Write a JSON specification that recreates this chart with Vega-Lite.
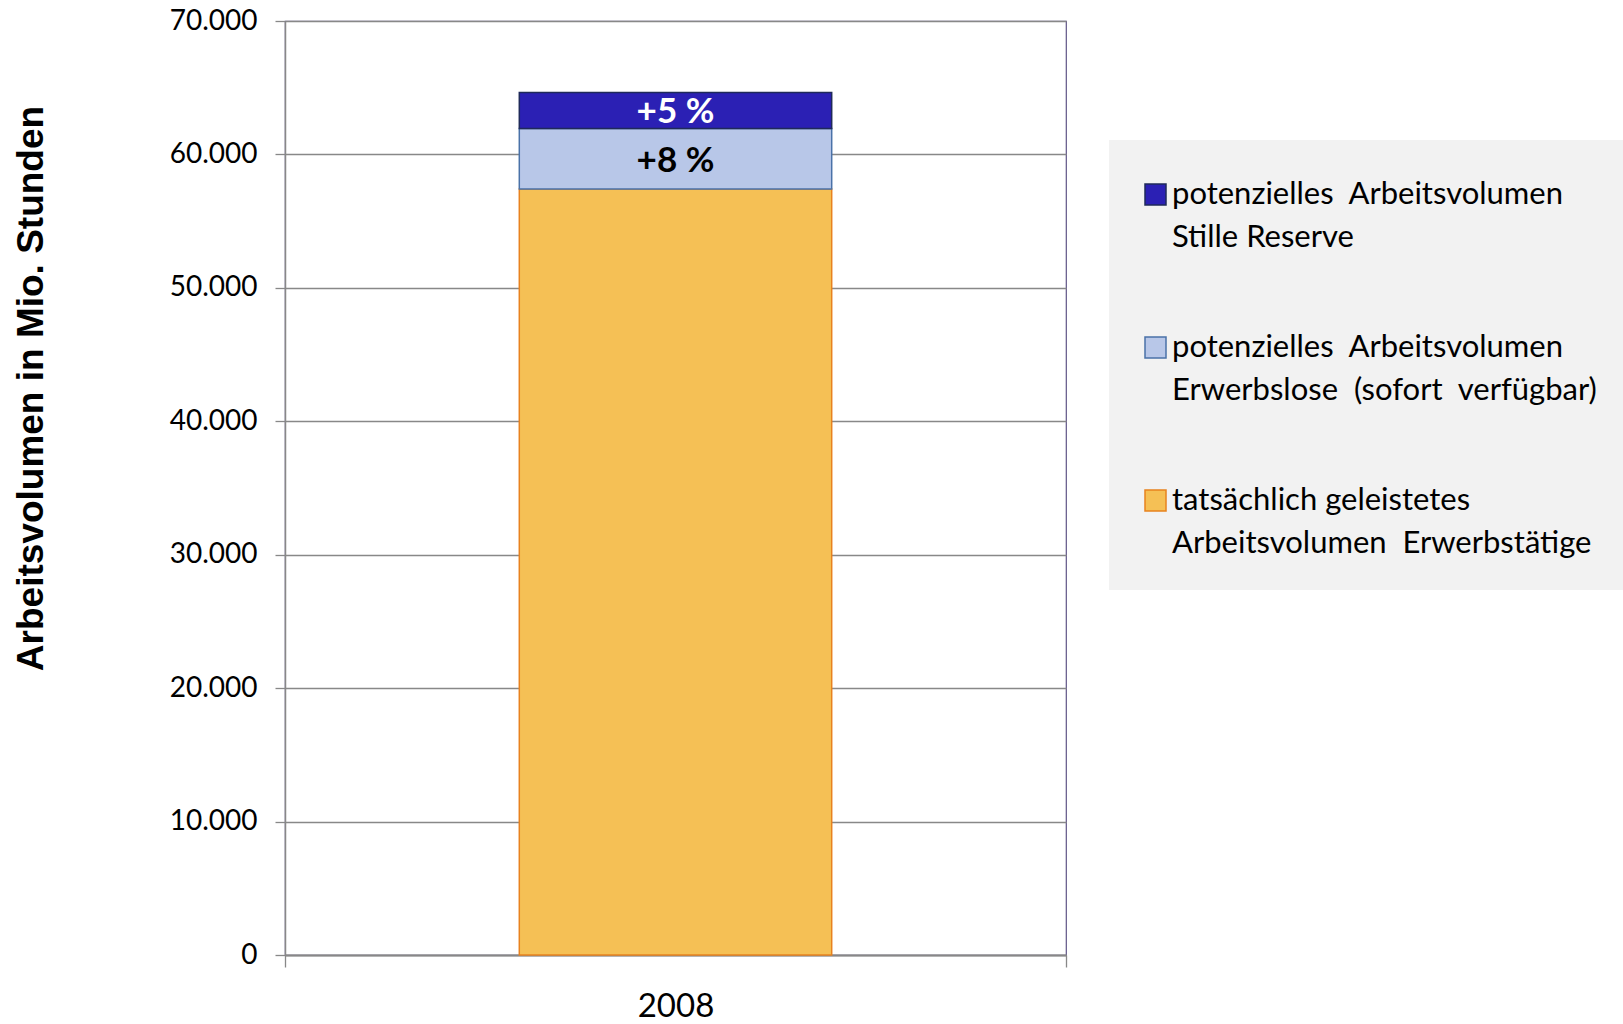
{
  "$schema": "https://vega.github.io/schema/vega-lite/v6.json",
  "width": 781,
  "height": 934,
  "autosize": {"type": "none"},
  "padding": {"left": 285, "top": 21, "right": 557, "bottom": 69},
  "background": "white",
  "config": {"view": {"stroke": "#5f5485", "strokeWidth": 1.2}, "font": "Lato"},
  "data": {
    "values": [
      {"jahr": "2008", "kategorie": "tatsächlich geleistetes|Arbeitsvolumen \u00a0Erwerbstätige", "wert": 57400, "ord": 1, "etikett": ""},
      {"jahr": "2008", "kategorie": "potenzielles \u00a0Arbeitsvolumen|Erwerbslose \u00a0(sofort \u00a0verfügbar)", "wert": 4550, "ord": 2, "etikett": "+8 %"},
      {"jahr": "2008", "kategorie": "potenzielles \u00a0Arbeitsvolumen|Stille Reserve", "wert": 2700, "ord": 3, "etikett": "+5 %"}
    ]
  },
  "layer": [
    {
      "mark": {"type": "bar", "strokeWidth": 1.5, "width": {"band": 0.4}},
      "encoding": {
        "x": {
          "field": "jahr", "type": "nominal",
          "scale": {"paddingInner": 0, "paddingOuter": 0},
          "axis": {
            "title": null, "labelAngle": 0, "labelFont": "Lato", "labelFontSize": 33, "labelColor": "black",
            "tickBand": "extent", "tickSize": 12, "tickColor": "#888888", "tickWidth": 1.3,
            "domainColor": "#888888", "domainWidth": 2, "labelPadding": 23, "grid": false
          }
        },
        "y": {
          "field": "wert", "type": "quantitative", "stack": "zero",
          "scale": {"domain": [0, 70000]},
          "axis": {
            "values": [0, 10000, 20000, 30000, 40000, 50000, 60000, 70000],
            "labelExpr": "replace(format(datum.value, ','), ',', '.')",
            "labelFont": "Lato", "labelFontSize": 28, "labelColor": "black", "labelPadding": 18,
            "tickSize": 10, "tickColor": "#888888", "tickWidth": 1.3,
            "domainColor": "#888888", "domainWidth": 1.5,
            "grid": true, "gridColor": "#888888", "gridWidth": 1.3,
            "title": "Arbeitsvolumen in Mio. Stunden",
            "titleFont": "Liberation Sans", "titleFontWeight": "bold", "titleFontSize": 37, "titleColor": "black",
            "titleAngle": 270, "titleX": -254, "titleY": 367, "titleAlign": "center", "titleBaseline": "middle"
          }
        },
        "fill": {
          "field": "kategorie", "type": "nominal",
          "scale": {
            "domain": ["potenzielles \u00a0Arbeitsvolumen|Stille Reserve", "potenzielles \u00a0Arbeitsvolumen|Erwerbslose \u00a0(sofort \u00a0verfügbar)", "tatsächlich geleistetes|Arbeitsvolumen \u00a0Erwerbstätige"],
            "range": ["#2b20b4", "#b8c7e8", "#f5c055"]
          },
          "legend": {
            "orient": "none", "legendX": 824, "legendY": 119, "title": " ", "titleFontSize": 1, "titlePadding": 7,
            "fillColor": "#f2f2f2", "padding": 31,
            "symbolType": "square", "symbolSize": 441, "symbolStrokeWidth": 1.5, "symbolOpacity": 1,
            "labelFont": "Lato", "labelFontSize": 31, "labelColor": "black", "labelLimit": 700, "labelOffset": 1,
            "rowPadding": 78,
            "labelExpr": "split(datum.label, '|')",
            "encode": {"labels": {"update": {"lineHeight": {"value": 43}}}}
          }
        },
        "stroke": {
          "field": "kategorie", "type": "nominal",
          "scale": {
            "domain": ["potenzielles \u00a0Arbeitsvolumen|Stille Reserve", "potenzielles \u00a0Arbeitsvolumen|Erwerbslose \u00a0(sofort \u00a0verfügbar)", "tatsächlich geleistetes|Arbeitsvolumen \u00a0Erwerbstätige"],
            "range": ["#1f2a5a", "#4a72a8", "#e8821e"]
          },
          "legend": {
            "orient": "none", "legendX": 824, "legendY": 119, "title": " ", "titleFontSize": 1, "titlePadding": 7,
            "fillColor": "#f2f2f2", "padding": 31,
            "symbolType": "square", "symbolSize": 441, "symbolStrokeWidth": 1.5, "symbolOpacity": 1,
            "labelFont": "Lato", "labelFontSize": 31, "labelColor": "black", "labelLimit": 700, "labelOffset": 1,
            "rowPadding": 78,
            "labelExpr": "split(datum.label, '|')",
            "encode": {"labels": {"update": {"lineHeight": {"value": 43}}}}
          }
        },
        "order": {"field": "ord", "type": "quantitative"}
      }
    },
    {
      "transform": [
        {"stack": "wert", "groupby": ["jahr"], "sort": [{"field": "ord"}], "as": ["y0", "y1"]},
        {"calculate": "(datum.y0 + datum.y1) / 2", "as": "mitte"},
        {"filter": "datum.etikett != ''"}
      ],
      "mark": {"type": "text", "font": "Lato", "fontWeight": "bold", "fontSize": 35, "baseline": "middle", "dy": 2},
      "encoding": {
        "x": {"field": "jahr", "type": "nominal"},
        "y": {"field": "mitte", "type": "quantitative"},
        "text": {"field": "etikett"},
        "color": {"condition": {"test": "datum.ord === 3", "value": "white"}, "value": "black"}
      }
    }
  ]
}
